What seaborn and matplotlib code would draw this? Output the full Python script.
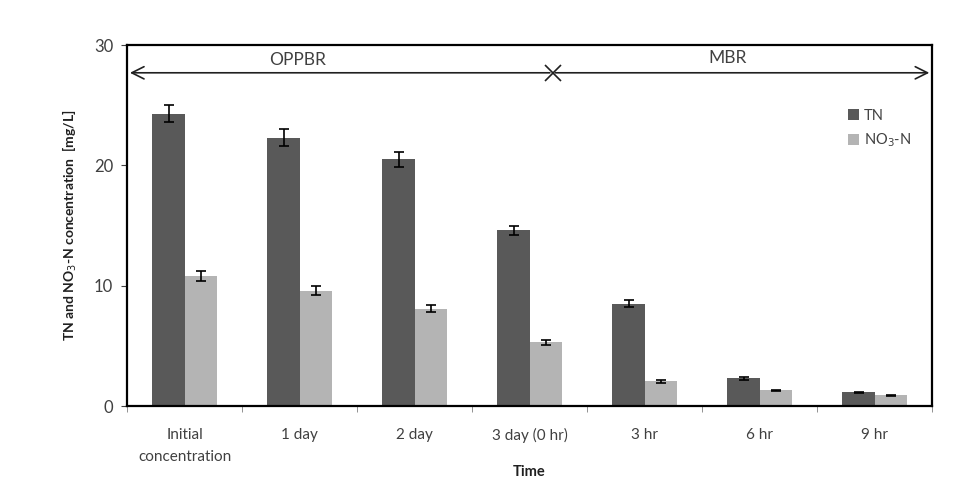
import pandas as pd
import seaborn as sns
import matplotlib.pyplot as plt

# Values
times = ['Initial\nconcentration', '1 day', '2 day', '3 day (0 hr)', '3 hr', '6 hr', '9 hr']
tn = [24.3, 22.3, 20.5, 14.6, 8.5, 2.3, 1.15]
tn_err = [0.7, 0.7, 0.6, 0.4, 0.3, 0.1, 0.05]
no3 = [10.8, 9.6, 8.1, 5.3, 2.05, 1.3, 0.9]
no3_err = [0.4, 0.35, 0.3, 0.2, 0.1, 0.05, 0.05]
series = ['TN', 'NO$_3$-N']
phase_y = 27.7

df = pd.DataFrame({
    'Time': times * 2,
    'value': tn + no3,
    'err': tn_err + no3_err,
    'series': [series[0]] * len(times) + [series[1]] * len(times),
})

sns.set_style('white')
plt.rcParams['font.family'] = ['Lato', 'DejaVu Sans']

fig = plt.figure(figsize=(9.56, 4.8), dpi=100)
ax = fig.add_axes([0.133, 0.154, 0.842, 0.752])

sns.barplot(data=df, x='Time', y='value', hue='series', ax=ax,
            palette=['#595959', '#b4b4b4'], width=0.56, errorbar=None,
            saturation=1, edgecolor='none')

# error bars on bar centres
for cont, errs in zip(ax.containers, [tn_err, no3_err]):
    for patch, e in zip(cont.patches, errs):
        ax.errorbar(patch.get_x() + patch.get_width() / 2, patch.get_height(), yerr=e,
                    fmt='none', ecolor='black', elinewidth=1.2, capsize=3.5, capthick=1.2)

ax.set_ylim(0, 30)
ax.set_xlim(-0.5, len(times) - 0.5)
ax.set_yticks([0, 10, 20, 30])
ax.tick_params(axis='y', length=4, direction='out', left=True, colors='#404040', labelsize=12, pad=6)
ax.set_xticks(range(len(times)))
ax.set_xticklabels(times, linespacing=1.7)
ax.tick_params(axis='x', length=0, colors='#404040', labelsize=11, pad=16)
ax.set_xticks([i - 0.5 for i in range(len(times) + 1)], minor=True)
ax.tick_params(axis='x', which='minor', length=4, bottom=True, direction='out', color='#808080')

for s in ax.spines.values():
    s.set_visible(True)
    s.set_color('black')
    s.set_linewidth(1.6)

ax.set_ylabel('TN and NO$_3$-N concentration  [mg/L]', fontsize=10, fontweight='bold',
              color='#202020', labelpad=11)
ax.set_xlabel('Time', fontsize=10.5, fontweight='bold', color='#202020', labelpad=1)

# phase arrows
split = 3.2
ax.annotate('', xy=(-0.5, phase_y), xytext=(split, phase_y),
            arrowprops=dict(arrowstyle='->', color='#202020', lw=1.2, mutation_scale=22))
ax.annotate('', xy=(6.5, phase_y), xytext=(split, phase_y),
            arrowprops=dict(arrowstyle='->', color='#202020', lw=1.2, mutation_scale=22))
ax.plot([split], [phase_y], marker='x', color='#202020', markersize=12, mew=1.2)
ax.text(0.98, 28.8, 'OPPBR', ha='center', va='center', fontsize=12.5, color='#404040')
ax.text(4.72, 28.9, 'MBR', ha='center', va='center', fontsize=12.5, color='#404040')

ax.legend(loc='upper right', bbox_to_anchor=(0.99, 0.86), frameon=False, fontsize=10.5,
          handlelength=0.8, handleheight=0.8, handletextpad=0.3, labelspacing=0.6,
          labelcolor='#404040')

fig.savefig('out.png', dpi=100)
